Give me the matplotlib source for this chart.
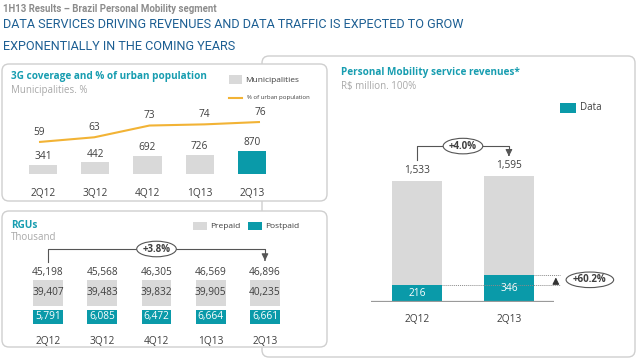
import matplotlib
matplotlib.use("Agg")
import matplotlib.pyplot as plt
from matplotlib.patches import FancyBboxPatch, Rectangle

# ---- data ----
quarters = ["2Q12", "3Q12", "4Q12", "1Q13", "2Q13"]
municipalities = [341, 442, 692, 726, 870]
urban_pct = [59, 63, 73, 74, 76]

rgu_total = [45198, 45568, 46305, 46569, 46896]
rgu_prepaid = [39407, 39483, 39832, 39905, 40235]
rgu_postpaid = [5791, 6085, 6472, 6664, 6661]
rgu_growth = "+3.8%"

rev_quarters = ["2Q12", "2Q13"]
rev_total = [1533, 1595]
rev_data = [216, 346]
rev_growth = "+4.0%"
data_growth = "+60.2%"

# ---- style ----
TEAL = "#0a9aa9"
TITLE_TEAL = "#179db0"
GREY_BAR = "#d9d9d9"
SUB_GREY = "#a8a8a8"
TXT = "#3f3f3f"
HEAD_BLUE = "#1d5f93"
YELLOW = "#f2b335"
BOX_EDGE = "#cfcfcf"
FONT = ["Open Sans", "DejaVu Sans"]
NARROW = ["Roboto", "DejaVu Sans"]
plt.rcParams["font.family"] = FONT
OVAL = dict(boxstyle="ellipse,pad=0.0", fc="white", ec="#555555", lw=0.8)

W, H = 640, 361
fig = plt.figure(figsize=(W / 100, H / 100), dpi=100)
fig.patch.set_facecolor("white")


def px_axes(x0, y0, x1, y1):
    ax = fig.add_axes([x0 / W, 1 - y1 / H, (x1 - x0) / W, (y1 - y0) / H])
    ax.patch.set_alpha(0)
    ax.set_axis_off()
    return ax


# background layer in pixel units (boxes, titles, legends)
bg = fig.add_axes([0, 0, 1, 1])
bg.set_xlim(0, W)
bg.set_ylim(H, 0)
bg.set_axis_off()


def panel(x0, y0, x1, y1, z):
    bg.add_patch(FancyBboxPatch((x0, y0), x1 - x0, y1 - y0,
                                boxstyle="round,pad=0,rounding_size=7",
                                fc="white", ec=BOX_EDGE, lw=1.0, zorder=z))


panel(262, 56, 635, 357, 1)
panel(2, 64, 327, 201, 2)
panel(2, 211, 327, 347, 2)

bg.text(3, 9, "1H13 Results \u2013 Brazil Personal Mobility segment", fontsize=6.9,
        fontweight="bold", color="#8c8c8c", va="center", family=NARROW)
bg.text(3, 25, "DATA SERVICES DRIVING REVENUES AND DATA TRAFFIC IS EXPECTED TO GROW",
        fontsize=9.1, color=HEAD_BLUE, va="center", family=NARROW)
bg.text(3, 46, "EXPONENTIALLY IN THE COMING YEARS",
        fontsize=9.1, color=HEAD_BLUE, va="center", family=NARROW)

# panel titles
bg.text(11, 77, "3G coverage and % of urban population", fontsize=7.2, fontweight="bold",
        color=TITLE_TEAL, va="center", zorder=5)
bg.text(11, 91, "Municipalities. %", fontsize=7, color=SUB_GREY, va="center", zorder=5)
bg.text(11, 225, "RGUs", fontsize=7.2, fontweight="bold", color=TITLE_TEAL, va="center", zorder=5)
bg.text(11, 238, "Thousand", fontsize=7, color=SUB_GREY, va="center", zorder=5)
bg.text(341, 72, "Personal Mobility service revenues*", fontsize=7.2, fontweight="bold",
        color=TITLE_TEAL, va="center", zorder=5)
bg.text(341, 86, "R$ million. 100%", fontsize=7, color=SUB_GREY, va="center", zorder=5)

# legends
bg.add_patch(Rectangle((229, 75), 13, 9, fc=GREY_BAR, ec="none", zorder=5))
bg.text(245, 80, "Municipalities", fontsize=6, color=TXT, va="center", zorder=5)
bg.plot([229, 242], [98, 98], color=YELLOW, lw=1.5, zorder=5)
bg.text(247, 98, "% of urban population", fontsize=4.3, color=TXT, va="center", zorder=5)
bg.add_patch(Rectangle((193, 222), 14, 8, fc=GREY_BAR, ec="none", zorder=5))
bg.text(210, 226, "Prepaid", fontsize=6, color=TXT, va="center", zorder=5)
bg.add_patch(Rectangle((248, 222), 14, 8, fc=TEAL, ec="none", zorder=5))
bg.text(265, 226, "Postpaid", fontsize=6, color=TXT, va="center", zorder=5)
bg.add_patch(Rectangle((560, 103), 16, 10, fc=TEAL, ec="none", zorder=5))
bg.text(580, 108, "Data", fontsize=7, color=TXT, va="center", zorder=5)

# ---- chart 1: municipalities bars + urban population line ----
x5 = range(len(quarters))
ax1 = px_axes(17, 100, 278, 174)
ax1.set_xlim(-0.5, 4.5)
ax1.set_ylim(0, 2800)
cols = [GREY_BAR] * 4 + [TEAL]
ax1.bar(x5, municipalities, width=0.54, color=cols)
for i, v in enumerate(municipalities):
    ax1.annotate(f"{v}", (i, v), xytext=(0, 2), textcoords="offset points",
                 ha="center", va="bottom", fontsize=7.3, color=TXT)
    ax1.annotate(quarters[i], (i, 0), xytext=(0, -19), textcoords="offset pixels",
                 ha="center", va="center", fontsize=7.3, color=TXT, annotation_clip=False)

axl = px_axes(11.4, 100, 287.6, 174)
axl.set_xlim(-0.5, 4.5)
axl.set_ylim(31.8, 94.7)
axl.plot(x5, urban_pct, color=YELLOW, lw=1.5, solid_capstyle="butt")
for i, v in enumerate(urban_pct):
    axl.annotate(f"{v}", (i, v), xytext=(0, 3), textcoords="offset points",
                 ha="center", va="bottom", fontsize=7.3, color=TXT)

# ---- chart 2: RGUs ----
ax2 = px_axes(20.9, 255, 292.1, 330)
ax2.set_xlim(-0.5, 4.5)
ax2.set_ylim(0, 1)
tile_w = 0.55
ax2.bar(x5, 0.347, bottom=0.32, width=tile_w, color=GREY_BAR)
ax2.bar(x5, 0.187, bottom=0.08, width=tile_w, color=TEAL)
for i in x5:
    ax2.text(i, 0.773, f"{rgu_total[i]:,}", ha="center", va="center", fontsize=7.3, color=TXT)
    ax2.text(i, 0.32 + 0.347 / 2, f"{rgu_prepaid[i]:,}", ha="center", va="center",
             fontsize=7.3, color=TXT)
    ax2.text(i, 0.08 + 0.187 / 2, f"{rgu_postpaid[i]:,}", ha="center", va="center",
             fontsize=7.3, color="white")
    ax2.text(i, -0.16, quarters[i], ha="center", va="center", fontsize=7.3, color=TXT,
             clip_on=False)
ax2.plot([0, 0, 4, 4], [0.907, 1.08, 1.08, 0.96], color="#555555", lw=0.8, clip_on=False)
ax2.annotate("", xy=(4, 0.925), xytext=(4, 0.97),
             arrowprops=dict(arrowstyle="-|>,head_length=0.4,head_width=0.2",
                             color="#555555", lw=0.8), annotation_clip=False)
ax2.text(2, 1.08, rgu_growth, ha="center", va="center", fontsize=7, fontweight="bold",
         color=TXT, clip_on=False, bbox=OVAL)

# ---- chart 3: revenues ----
ax3 = px_axes(371, 140, 554, 302)
ax3.set_xlim(-0.5, 1.49)
ax3.set_ylim(0, 2052)
x2 = range(len(rev_quarters))
bw = 0.54
ax3.bar(x2, rev_total, width=bw, color=GREY_BAR)
ax3.bar(x2, rev_data, width=bw, color=TEAL)
ax3.axhline(0, color="#9a9a9a", lw=1.6)
for i in x2:
    ax3.annotate(f"{rev_total[i]:,}", (i, rev_total[i]), xytext=(0, 5), textcoords="offset pixels",
                 ha="center", va="bottom", fontsize=7.3, color=TXT)
    ax3.text(i, rev_data[i] / 2, f"{rev_data[i]}", ha="center", va="center",
             fontsize=7.3, color="white")
    ax3.annotate(rev_quarters[i], (i, 0), xytext=(0, -18), textcoords="offset pixels",
                 ha="center", va="center", fontsize=7.3, color=TXT, annotation_clip=False)
ax3.plot([0, 0, 1, 1], [1800, 1975, 1975, 1900], color="#555555", lw=0.8, clip_on=False)
ax3.annotate("", xy=(1, 1845), xytext=(1, 1905),
             arrowprops=dict(arrowstyle="-|>,head_length=0.4,head_width=0.2",
                             color="#555555", lw=0.8), annotation_clip=False)
ax3.text(0.5, 1975, rev_growth, ha="center", va="center", fontsize=7, fontweight="bold",
         color=TXT, clip_on=False, bbox=OVAL)
# data growth marker
ax3.plot([bw / 2, 1.555], [rev_data[0]] * 2, color="#8a8a8a", lw=0.7, ls=(0, (1, 1)),
         clip_on=False)
ax3.plot([1 + bw / 2, 1.555], [rev_data[1]] * 2, color="#8a8a8a", lw=0.7, ls=(0, (1, 1)),
         clip_on=False)
ax3.annotate("", xy=(1.51, rev_data[1]), xytext=(1.51, rev_data[0]),
             arrowprops=dict(arrowstyle="-|>,head_length=0.4,head_width=0.2",
                             color="#333333", lw=0.8), annotation_clip=False)
ax3.text(1.88, sum(rev_data) / 2, data_growth, ha="center", va="center", fontsize=7,
         fontweight="bold", color=TXT, clip_on=False, bbox=OVAL)

fig.savefig("out.png", dpi=100, facecolor="white")
